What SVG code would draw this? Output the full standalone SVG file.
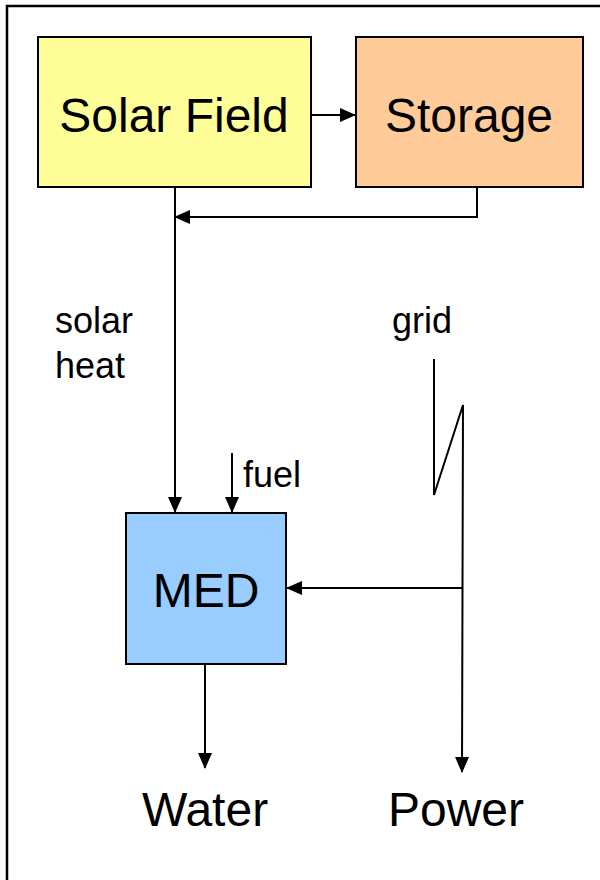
<svg xmlns="http://www.w3.org/2000/svg" width="600" height="880" viewBox="0 0 600 880">
<style>
.box{stroke:#000;stroke-width:2}
.big{font-family:"Liberation Sans",Arial,sans-serif;font-size:48px;fill:#000}
.small{font-family:"Liberation Sans",Arial,sans-serif;font-size:36px;fill:#000}
.ln{fill:none;stroke:#000;stroke-width:2}
</style>
<defs>
<marker id="ah" markerWidth="16" markerHeight="14" refX="15" refY="7" orient="auto" markerUnits="userSpaceOnUse">
<path d="M0,0 L16,7 L0,14 Z" fill="#000"/>
</marker>
</defs>
<rect x="0" y="0" width="600" height="880" fill="#fff"/>
<rect x="7" y="6" width="620" height="900" fill="none" stroke="#000" stroke-width="2.5"/>
<g id="solar-field">
<rect class="box" x="38" y="37" width="273" height="150" fill="#FFFF99"/>
<text class="big" x="174" y="132" text-anchor="middle">Solar Field</text>
</g>
<g id="storage">
<rect class="box" x="356" y="37" width="227" height="150" fill="#FFCC99"/>
<text class="big" x="469" y="132" text-anchor="middle">Storage</text>
</g>
<g id="med">
<rect class="box" x="126" y="513" width="160" height="151" fill="#99CCFF"/>
<text class="big" x="206" y="607" text-anchor="middle">MED</text>
</g>
<g id="labels">
<text class="small" x="55" y="333">solar</text>
<text class="small" x="55" y="378">heat</text>
<text class="small" x="392" y="333">grid</text>
<text class="small" x="243" y="487">fuel</text>
<text class="big" x="205" y="826" text-anchor="middle">Water</text>
<text class="big" x="456" y="826" text-anchor="middle">Power</text>
</g>
<g id="connectors">
<line class="ln" x1="311" y1="115" x2="355" y2="115" marker-end="url(#ah)"/>
<polyline class="ln" points="477,187 477,217 175,217" marker-end="url(#ah)"/>
<line class="ln" x1="175" y1="187" x2="175" y2="512" marker-end="url(#ah)"/>
<line class="ln" x1="232" y1="453" x2="232" y2="512" marker-end="url(#ah)"/>
<line class="ln" x1="205" y1="664" x2="205" y2="768" marker-end="url(#ah)"/>
<polyline class="ln" points="434,359 434,495 463,405 462,772" marker-end="url(#ah)"/>
<line class="ln" x1="463" y1="588" x2="287" y2="588" marker-end="url(#ah)"/>
</g>
</svg>
